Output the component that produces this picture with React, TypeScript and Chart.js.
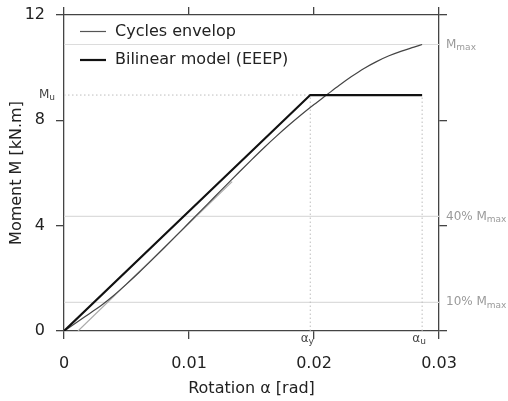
import React, { useEffect, useRef } from "react";
import { Chart, registerables } from "chart.js";

Chart.register(...registerables);

// ---- data ----
const rotation = [
  0, 0.001, 0.002, 0.003, 0.004, 0.005, 0.006, 0.007, 0.008, 0.009, 0.01,
  0.011, 0.012, 0.013, 0.014, 0.015, 0.016, 0.017, 0.018, 0.019, 0.02, 0.021,
  0.022, 0.023, 0.024, 0.025, 0.026, 0.027, 0.028, 0.02865,
];
const moment = [
  0, 0.32, 0.65, 0.98, 1.36, 1.78, 2.22, 2.68, 3.15, 3.63, 4.11,
  4.59, 5.07, 5.55, 6.03, 6.5, 6.96, 7.4, 7.82, 8.22, 8.6, 8.96,
  9.32, 9.66, 9.97, 10.23, 10.45, 10.63, 10.78, 10.88,
];
const bilinearRotation = [0, 0.0197, 0.02865];
const bilinearMoment = [0, 8.96, 8.96];
const tangentRotation = [0.00112, 0.01345];
const tangentMoment = [0, 5.67];
const alphaY = 0.0197;
const alphaU = 0.02865;
const Mu = 8.96;
const Mmax = 10.88;
const refFractions = [1, 0.4, 0.1];
const refPrefixes = ["", "40% ", "10% "];
const xMin = 0;
const xMax = 0.03;
const xStep = 0.01;
const yMin = 0;
const yMax = 12;
const yStep = 4;

const FONT = '"DejaVu Sans"';

function pts(xs: number[], ys: number[]) {
  return xs.map((x, i) => ({ x, y: ys[i] }));
}

function drawSub(
  ctx: CanvasRenderingContext2D,
  x: number,
  y: number,
  main: string,
  sub: string,
  align: "left" | "right" | "center",
  color: string
) {
  ctx.save();
  ctx.font = `12px ${FONT}`;
  const w1 = ctx.measureText(main).width;
  ctx.font = `9px ${FONT}`;
  const w2 = ctx.measureText(sub).width;
  const x0 = align === "left" ? x : align === "right" ? x - w1 - w2 : x - (w1 + w2) / 2;
  ctx.fillStyle = color;
  ctx.textAlign = "left";
  ctx.textBaseline = "middle";
  ctx.font = `12px ${FONT}`;
  ctx.fillText(main, x0, y);
  ctx.font = `9px ${FONT}`;
  ctx.fillText(sub, x0 + w1, y + 3);
  ctx.restore();
}

const annotationPlugin = {
  id: "annotations",
  afterDraw(chart: any) {
    const ctx = chart.ctx as CanvasRenderingContext2D;
    const xs = chart.scales.x;
    const ys = chart.scales.y;
    const area = chart.chartArea;
    refFractions.forEach((f, i) => {
      drawSub(ctx, area.right + 7, ys.getPixelForValue(Mmax * f), refPrefixes[i] + "M", "max", "left", "#9a9a9a");
    });
    drawSub(ctx, area.left - 9, ys.getPixelForValue(Mu), "M", "u", "right", "#444");
    drawSub(ctx, xs.getPixelForValue(alphaY) - 3, area.bottom + 8, "α", "y", "center", "#444");
    drawSub(ctx, xs.getPixelForValue(alphaU) - 3, area.bottom + 8, "α", "u", "center", "#444");
    const items = chart.data.datasets
      .filter((d: any) => d.legendOrder !== undefined)
      .sort((a: any, b: any) => a.legendOrder - b.legendOrder);
    items.forEach((d: any, i: number) => {
      const y = area.top + 16.5 + i * 28.5;
      ctx.save();
      ctx.strokeStyle = d.legendColor || d.borderColor;
      ctx.lineWidth = d.borderWidth;
      ctx.beginPath();
      ctx.moveTo(area.left + 16, y);
      ctx.lineTo(area.left + 42, y);
      ctx.stroke();
      ctx.fillStyle = "#222";
      ctx.font = `16px ${FONT}`;
      ctx.textAlign = "left";
      ctx.textBaseline = "middle";
      ctx.fillText(d.label, area.left + 51, y);
      ctx.restore();
    });
  },
};

const axisGrid = { drawOnChartArea: false, drawTicks: true, tickLength: 8, color: "#444", lineWidth: 1.3 };
const axisBorder = { color: "#444", width: 1.3 };

export default function App() {
  const ref = useRef<HTMLCanvasElement>(null);
  useEffect(() => {
    if (!ref.current) return;
    const dotted = {
      borderColor: "#bdbdbd",
      borderWidth: 1,
      borderDash: [1.5, 2.5],
      pointRadius: 0,
      showLine: true,
      fill: false,
    };
    const refLines = refFractions.map((f) => ({
      data: pts([xMin, xMax], [Mmax * f, Mmax * f]),
      borderColor: "#dcdcdc",
      borderWidth: 1.2,
      pointRadius: 0,
      showLine: true,
      fill: false,
    }));
    const chart = new Chart(ref.current, {
      type: "scatter",
      data: {
        datasets: [
          {
            label: "Bilinear model (EEEP)",
            legendOrder: 1,
            data: pts(bilinearRotation, bilinearMoment),
            borderColor: "#111",
            borderWidth: 2.2,
            pointRadius: 0,
            showLine: true,
            fill: false,
          },
          {
            label: "Cycles envelop",
            legendOrder: 0,
            legendColor: "#555",
            data: pts(rotation, moment),
            borderColor: "#444",
            borderWidth: 1.2,
            pointRadius: 0,
            showLine: true,
            cubicInterpolationMode: "monotone",
            fill: false,
          },
          {
            data: pts(tangentRotation, tangentMoment),
            borderColor: "#aaaaaa",
            borderWidth: 1.2,
            pointRadius: 0,
            showLine: true,
            fill: false,
          },
          { ...dotted, data: pts([xMin, alphaY], [Mu, Mu]) },
          { ...dotted, data: pts([alphaY, alphaY], [yMin, Mu]) },
          { ...dotted, data: pts([alphaU, alphaU], [yMin, Mu]) },
          ...refLines,
        ] as any,
      },
      options: {
        responsive: false,
        animation: false,
        devicePixelRatio: 1,
        layout: { padding: 0 },
        plugins: { legend: { display: false }, tooltip: { enabled: false } },
        scales: {
          x: {
            type: "linear",
            position: "bottom",
            min: xMin,
            max: xMax,
            afterFit: (s: any) => {
              s.height = 70;
            },
            ticks: {
              stepSize: xStep,
              padding: 15,
              color: "#222",
              font: { family: FONT, size: 16 },
              callback: (v: any) => String(Number(Number(v).toFixed(3))),
            },
            grid: axisGrid,
            border: axisBorder,
            title: {
              display: true,
              text: "Rotation α [rad]",
              color: "#222",
              font: { family: FONT, size: 16 },
              padding: { top: 0, bottom: 3 },
            },
          },
          x2: {
            type: "linear",
            position: "top",
            min: xMin,
            max: xMax,
            afterFit: (s: any) => {
              s.height = 15;
            },
            ticks: { stepSize: xStep, display: false },
            grid: axisGrid,
            border: axisBorder,
          },
          y: {
            type: "linear",
            position: "left",
            min: yMin,
            max: yMax,
            afterFit: (s: any) => {
              s.width = 64;
              s.paddingTop = 0;
              s.paddingBottom = 0;
            },
            ticks: {
              stepSize: yStep,
              padding: 11,
              color: "#222",
              font: { family: FONT, size: 16 },
            },
            grid: axisGrid,
            border: axisBorder,
            title: {
              display: true,
              text: "Moment M [kN.m]",
              color: "#222",
              font: { family: FONT, size: 16 },
              padding: { top: 7, bottom: 0 },
            },
          },
          y2: {
            type: "linear",
            position: "right",
            min: yMin,
            max: yMax,
            afterFit: (s: any) => {
              s.width = 69;
              s.paddingTop = 0;
              s.paddingBottom = 0;
            },
            ticks: { stepSize: yStep, display: false },
            grid: axisGrid,
            border: axisBorder,
          },
        },
      } as any,
      plugins: [annotationPlugin],
    });
    return () => chart.destroy();
  }, []);
  return (
    <div style={{ position: "fixed", left: 0, top: 0, width: 508, height: 401, background: "#fff" }}>
      <canvas ref={ref} width={508} height={401} style={{ display: "block", width: 508, height: 401 }} />
    </div>
  );
}
